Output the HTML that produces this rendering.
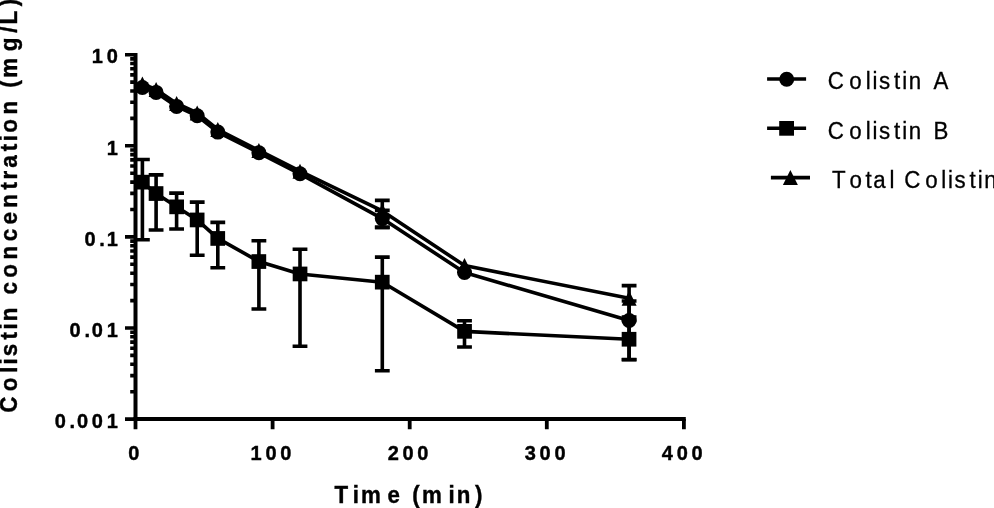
<!DOCTYPE html>
<html><head><meta charset="utf-8"><title>Colistin concentration</title>
<style>html,body{margin:0;padding:0;background:#fff;overflow:hidden}svg{display:block}</style></head>
<body><svg width="994" height="508" viewBox="0 0 994 508">
<rect width="994" height="508" fill="#fff"/>
<path d="M135.5 52.9V421" stroke="#000" stroke-width="4" fill="none"/>
<path d="M133.5 419.1H685.8" stroke="#000" stroke-width="4" fill="none"/>
<path d="M125 54.7H135.5M130.2 118.4H135.5M130.2 102.3H135.5M130.2 91.0H135.5M130.2 82.1H135.5M130.2 74.9H135.5M130.2 68.8H135.5M130.2 63.5H135.5M130.2 58.9H135.5M125 145.8H135.5M130.2 209.5H135.5M130.2 193.4H135.5M130.2 182.1H135.5M130.2 173.2H135.5M130.2 166.0H135.5M130.2 159.9H135.5M130.2 154.6H135.5M130.2 150.0H135.5M125 236.9H135.5M130.2 300.6H135.5M130.2 284.5H135.5M130.2 273.2H135.5M130.2 264.3H135.5M130.2 257.1H135.5M130.2 251.0H135.5M130.2 245.7H135.5M130.2 241.1H135.5M125 328.0H135.5M130.2 391.7H135.5M130.2 375.6H135.5M130.2 364.3H135.5M130.2 355.4H135.5M130.2 348.2H135.5M130.2 342.1H135.5M130.2 336.8H135.5M130.2 332.2H135.5M125 419.1H135.5" stroke="#000" stroke-width="3.6" fill="none"/>
<path d="M135.5 419V429.2M272.6 419V429.2M409.7 419V429.2M546.8 419V429.2M683.9 419V429.2" stroke="#000" stroke-width="3.8" fill="none"/>
<path d="M382.3 210.4V227.4M374.9 210.4H389.7M374.9 227.4H389.7" stroke="#000" stroke-width="3.6" fill="none"/>
<path d="M629.1 301.0V359.5M621.7 301.0H636.5M621.7 359.5H636.5" stroke="#000" stroke-width="3.6" fill="none"/>
<polyline points="142.4,87.5 156.1,92.4 176.6,106.4 197.2,115.8 217.8,132.1 258.9,152.8 300.0,173.8 382.3,218.6 464.5,272.5 629.1,320.5" fill="none" stroke="#000" stroke-width="3.6" stroke-linejoin="round"/>
<circle cx="142.4" cy="87.5" r="7.5"/>
<circle cx="156.1" cy="92.4" r="7.5"/>
<circle cx="176.6" cy="106.4" r="7.5"/>
<circle cx="197.2" cy="115.8" r="7.5"/>
<circle cx="217.8" cy="132.1" r="7.5"/>
<circle cx="258.9" cy="152.8" r="7.5"/>
<circle cx="300.0" cy="173.8" r="7.5"/>
<circle cx="382.3" cy="218.6" r="7.5"/>
<circle cx="464.5" cy="272.5" r="7.5"/>
<circle cx="629.1" cy="320.5" r="7.5"/>
<path d="M142.4 159.5V239.8M135.0 159.5H149.8M135.0 239.8H149.8" stroke="#000" stroke-width="3.6" fill="none"/>
<path d="M156.1 174.9V230.0M148.7 174.9H163.5M148.7 230.0H163.5" stroke="#000" stroke-width="3.6" fill="none"/>
<path d="M176.6 193.1V229.0M169.2 193.1H184.0M169.2 229.0H184.0" stroke="#000" stroke-width="3.6" fill="none"/>
<path d="M197.2 202.1V255.2M189.8 202.1H204.6M189.8 255.2H204.6" stroke="#000" stroke-width="3.6" fill="none"/>
<path d="M217.8 222.4V267.7M210.4 222.4H225.2M210.4 267.7H225.2" stroke="#000" stroke-width="3.6" fill="none"/>
<path d="M258.9 240.7V309.0M251.5 240.7H266.3M251.5 309.0H266.3" stroke="#000" stroke-width="3.6" fill="none"/>
<path d="M300.0 249.2V346.2M292.6 249.2H307.4M292.6 346.2H307.4" stroke="#000" stroke-width="3.6" fill="none"/>
<path d="M382.3 257.1V370.8M374.9 257.1H389.7M374.9 370.8H389.7" stroke="#000" stroke-width="3.6" fill="none"/>
<path d="M464.5 320.7V347.0M457.1 320.7H471.9M457.1 347.0H471.9" stroke="#000" stroke-width="3.6" fill="none"/>
<path d="M629.1 320.5V359.7M621.7 320.5H636.5M621.7 359.7H636.5" stroke="#000" stroke-width="3.6" fill="none"/>
<polyline points="142.4,182.2 156.1,193.6 176.6,206.8 197.2,219.9 217.8,238.4 258.9,261.5 300.0,274.0 382.3,282.2 464.5,331.4 629.1,339.3" fill="none" stroke="#000" stroke-width="3.6" stroke-linejoin="round"/>
<rect x="135.0" y="174.8" width="14.7" height="14.7"/>
<rect x="148.7" y="186.2" width="14.7" height="14.7"/>
<rect x="169.3" y="199.5" width="14.7" height="14.7"/>
<rect x="189.8" y="212.6" width="14.7" height="14.7"/>
<rect x="210.4" y="231.1" width="14.7" height="14.7"/>
<rect x="251.5" y="254.2" width="14.7" height="14.7"/>
<rect x="292.7" y="266.6" width="14.7" height="14.7"/>
<rect x="374.9" y="274.8" width="14.7" height="14.7"/>
<rect x="457.2" y="324.0" width="14.7" height="14.7"/>
<rect x="621.7" y="331.9" width="14.7" height="14.7"/>
<path d="M382.3 200.4V227.4M374.9 200.4H389.7M374.9 227.4H389.7" stroke="#000" stroke-width="3.6" fill="none"/>
<path d="M629.1 285.6V317.0M621.7 285.6H636.5M621.7 317.0H636.5" stroke="#000" stroke-width="3.6" fill="none"/>
<polyline points="142.4,84.0 156.1,89.5 176.6,103.4 197.2,112.9 217.8,129.5 258.9,150.4 300.0,171.2 382.3,210.9 464.5,265.6 629.1,298.2" fill="none" stroke="#000" stroke-width="3.6" stroke-linejoin="round"/>
<path d="M142.4 76.5L149.9 91.5H134.9Z"/>
<path d="M156.1 82.0L163.6 97.0H148.6Z"/>
<path d="M176.6 95.9L184.1 110.9H169.1Z"/>
<path d="M197.2 105.4L204.7 120.4H189.7Z"/>
<path d="M217.8 122.0L225.3 137.0H210.3Z"/>
<path d="M258.9 142.9L266.4 157.9H251.4Z"/>
<path d="M300.0 163.7L307.5 178.7H292.5Z"/>
<path d="M382.3 203.4L389.8 218.4H374.8Z"/>
<path d="M464.5 258.1L472.0 273.1H457.0Z"/>
<path d="M629.1 290.7L636.6 305.7H621.6Z"/>
<path d="M767.1 79H806.1M767.1 128.2H806.1M770.9 177.6H810" stroke="#000" stroke-width="3.6"/>
<circle cx="786.7" cy="79.2" r="7.5"/>
<rect x="779.2" y="121" width="14.8" height="14.7"/>
<path d="M790.4 170L797.9 185H782.9Z"/>
<text transform="translate(0 63.4) scale(1 1.035)" x="91.84 106.67" y="0" style="font-family:'Liberation Sans',Arial,Helvetica,sans-serif;font-size:20px;stroke:#000;stroke-width:0.4px;font-weight:bold">10</text>
<text transform="translate(0 154.5) scale(1 1.035)" x="106.67" y="0" style="font-family:'Liberation Sans',Arial,Helvetica,sans-serif;font-size:20px;stroke:#000;stroke-width:0.4px;font-weight:bold">1</text>
<text transform="translate(0 245.6) scale(1 1.035)" x="84.43 99.26 106.67" y="0" style="font-family:'Liberation Sans',Arial,Helvetica,sans-serif;font-size:20px;stroke:#000;stroke-width:0.4px;font-weight:bold">0.1</text>
<text transform="translate(0 336.7) scale(1 1.035)" x="69.60 84.43 91.84 106.67" y="0" style="font-family:'Liberation Sans',Arial,Helvetica,sans-serif;font-size:20px;stroke:#000;stroke-width:0.4px;font-weight:bold">0.01</text>
<text transform="translate(0 427.8) scale(1 1.035)" x="54.77 69.60 77.01 91.84 106.67" y="0" style="font-family:'Liberation Sans',Arial,Helvetica,sans-serif;font-size:20px;stroke:#000;stroke-width:0.4px;font-weight:bold">0.001</text>
<text transform="translate(0 460.3) scale(1 1.035)" x="128.28" y="0" style="font-family:'Liberation Sans',Arial,Helvetica,sans-serif;font-size:20px;stroke:#000;stroke-width:0.4px;font-weight:bold">0</text>
<text transform="translate(0 460.3) scale(1 1.035)" x="250.55 265.38 280.22" y="0" style="font-family:'Liberation Sans',Arial,Helvetica,sans-serif;font-size:20px;stroke:#000;stroke-width:0.4px;font-weight:bold">100</text>
<text transform="translate(0 460.3) scale(1 1.035)" x="387.65 402.48 417.32" y="0" style="font-family:'Liberation Sans',Arial,Helvetica,sans-serif;font-size:20px;stroke:#000;stroke-width:0.4px;font-weight:bold">200</text>
<text transform="translate(0 460.3) scale(1 1.035)" x="524.75 539.58 554.42" y="0" style="font-family:'Liberation Sans',Arial,Helvetica,sans-serif;font-size:20px;stroke:#000;stroke-width:0.4px;font-weight:bold">300</text>
<text transform="translate(0 460.3) scale(1 1.035)" x="661.85 676.68 691.52" y="0" style="font-family:'Liberation Sans',Arial,Helvetica,sans-serif;font-size:20px;stroke:#000;stroke-width:0.4px;font-weight:bold">400</text>
<text transform="translate(0 502.8) scale(1 1.035)" x="334.54 352.70 360.96 387.40 403.94 412.20 422.10 448.54 456.80 474.96" y="0" style="font-family:'Liberation Sans',Arial,Helvetica,sans-serif;font-size:22.3px;stroke:#000;stroke-width:0.4px;font-weight:bold">Time (min)</text>
<text transform="translate(17.1 204.5) rotate(-90) scale(1 1.035)" x="-208.33 -186.67 -168.34 -160.00 -151.67 -134.99 -125.00 -116.66 -98.33 -90.00 -73.32 -54.99 -36.67 -19.98 -3.30 15.03 25.02 36.69 53.38 63.37 71.70 90.03 108.35 116.69 126.68 153.35 171.68 180.01 198.34" y="0" style="font-family:'Liberation Sans',Arial,Helvetica,sans-serif;font-size:22.5px;stroke:#000;stroke-width:0.4px;font-weight:bold">Colistin concentration (mg/L)</text>
<text transform="translate(0 89.4) scale(1 1.035)" x="827.80 849.27 865.81 872.41 879.02 893.89 902.15 908.75 925.29 933.55" y="0" style="font-family:'Liberation Sans',Arial,Helvetica,sans-serif;font-size:22.3px;stroke:#000;stroke-width:0.3px">Colistin A</text>
<text transform="translate(0 138.6) scale(1 1.035)" x="827.80 849.27 865.81 872.41 879.02 893.89 902.15 908.75 925.29 933.55" y="0" style="font-family:'Liberation Sans',Arial,Helvetica,sans-serif;font-size:22.3px;stroke:#000;stroke-width:0.3px">Colistin B</text>
<text transform="translate(0 188) scale(1 1.035)" x="831.90 849.46 865.55 873.36 889.60 896.05 904.16 925.33 941.37 947.98 954.58 969.45 977.71 984.32" y="0" style="font-family:'Liberation Sans',Arial,Helvetica,sans-serif;font-size:22.3px;stroke:#000;stroke-width:0.3px">Total Colistin</text>
</svg></body></html>
